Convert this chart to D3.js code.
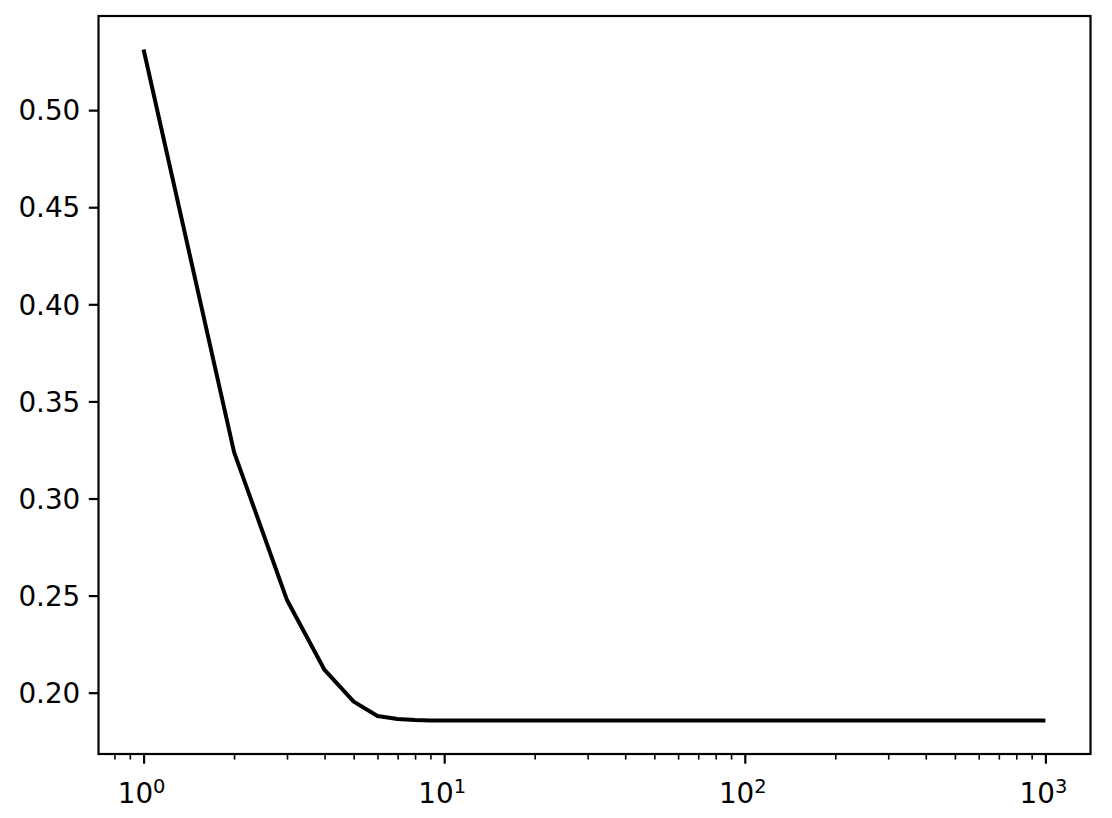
<!DOCTYPE html>
<html>
<head>
	<meta charset="UTF-8" />
	<title>curve</title>
	<script src="https://cdn.jsdelivr.net/npm/d3@7"></script>
	<style>
		body { margin:0; background:#fff; }
		svg text { font-family:"DejaVu Sans", sans-serif; fill:#000; }
	</style>
</head>
<body>
	<div id="chart"></div>
	<script type="text/javascript">
		// values
		var xs = [1, 2, 3, 4, 5, 6, 7, 8, 9, 10, 20, 50, 100, 200, 500, 1000];
		var ys = [0.5312, 0.3239, 0.2477, 0.2117, 0.1954, 0.1880, 0.1865, 0.1859, 0.1857, 0.1857,
			0.1857, 0.1857, 0.1857, 0.1857, 0.1857, 0.1857];
		var yTicks = [0.20, 0.25, 0.30, 0.35, 0.40, 0.45, 0.50];
		var xTicks = [1, 10, 100, 1000];
		var xTickExp = ["0", "1", "2", "3"];
		var xMinor = [0.8, 0.9];
		[1, 10, 100].forEach(function(d) {
			for (var k = 2; k <= 9; k++) xMinor.push(d * k);
		});

		var W = 1112, H = 818;
		var L = 98.5, R = 1090.5, T = 16, B = 754;
		var fs = 27.8;

		var svg = d3.select("#chart").append("svg")
			.attr("width", W).attr("height", H);

		// 5% margins like matplotlib
		var lx0 = Math.log10(d3.min(xs)), lx1 = Math.log10(d3.max(xs));
		var mx = (lx1 - lx0) * 0.05;
		var x = d3.scaleLog()
			.domain([Math.pow(10, lx0 - mx), Math.pow(10, lx1 + mx)])
			.range([L, R]);
		var y0 = d3.min(ys), y1 = d3.max(ys);
		var my = (y1 - y0) * 0.05;
		var y = d3.scaleLinear()
			.domain([y0 - my, y1 + my])
			.range([B, T]);

		var line = d3.line()
			.x(function(d, i) { return x(xs[i]); })
			.y(function(d) { return y(d); });

		svg.append("path")
			.datum(ys)
			.attr("d", line)
			.attr("fill", "none")
			.attr("stroke", "#000")
			.attr("stroke-width", 4)
			.attr("stroke-linejoin", "round");

		// y axis
		var yAxis = d3.axisLeft(y)
			.tickValues(yTicks)
			.tickFormat(d3.format(".2f"))
			.tickSize(9.7)
			.tickPadding(8.5);
		var gy = svg.append("g")
			.attr("transform", "translate(" + L + ",0)")
			.call(yAxis);
		gy.select(".domain").remove();
		gy.selectAll("line").attr("stroke", "#000").attr("stroke-width", 2.2);
		gy.selectAll("text")
			.attr("font-size", fs)
			.attr("font-family", "DejaVu Sans")
			.attr("dy", "0.35em");

		// x axis, minor ticks
		var gxm = svg.append("g")
			.attr("transform", "translate(0," + B + ")")
			.call(d3.axisBottom(x).tickValues(xMinor).tickFormat("").tickSize(5.6));
		gxm.select(".domain").remove();
		gxm.selectAll("line").attr("stroke", "#000").attr("stroke-width", 1.6);

		// x axis, major ticks
		var gx = svg.append("g")
			.attr("transform", "translate(0," + B + ")")
			.call(d3.axisBottom(x).tickValues(xTicks).tickFormat("").tickSize(9.7));
		gx.select(".domain").remove();
		gx.selectAll("line").attr("stroke", "#000").attr("stroke-width", 2.2);

		var lab = svg.append("g").selectAll("text")
			.data(xTicks)
			.enter().append("text")
			.attr("x", function(d) { return x(d) - 2; })
			.attr("y", 803)
			.attr("text-anchor", "middle")
			.attr("font-size", fs);
		lab.append("tspan").text("10");
		lab.append("tspan")
			.attr("dy", -10.5)
			.attr("font-size", fs * 0.7)
			.text(function(d, i) { return xTickExp[i]; });

		// frame
		svg.append("rect")
			.attr("x", L).attr("y", T)
			.attr("width", R - L).attr("height", B - T)
			.attr("fill", "none")
			.attr("stroke", "#000")
			.attr("stroke-width", 2.2);
	</script>
</body>
</html>
